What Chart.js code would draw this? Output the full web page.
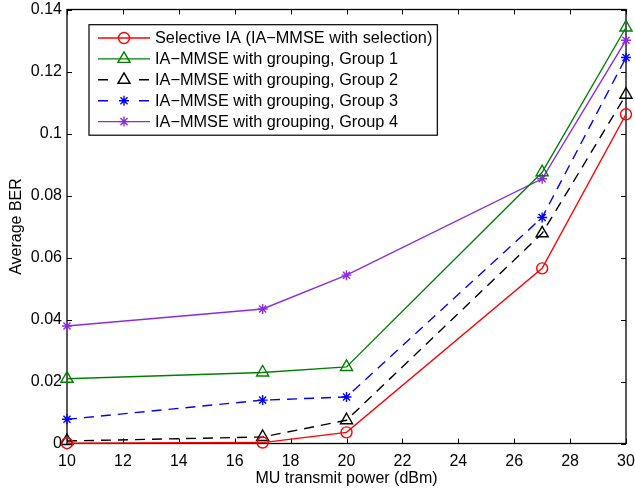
<!DOCTYPE html>
<html>
<head>
<meta charset="utf-8">
<script src="https://cdn.jsdelivr.net/npm/chart.js@4/dist/chart.umd.min.js"></script>
<style>
  html, body { margin: 0; padding: 0; background: #fff; }
  canvas { display: block; }
</style>
</head>
<body>
<canvas id="ber" width="635" height="491"></canvas>
<script>
// transmit power of the mobile users (dBm)
const powerDbm = [10, 17, 20, 27, 30]

// average BER per scheme
const selectiveIA = [0.0001, 0.0003, 0.0036, 0.0565, 0.1062]
const group1 = [0.0209, 0.0229, 0.0247, 0.0875, 0.1342]
const group2 = [0.0008, 0.0021, 0.0075, 0.0678, 0.1125]
const group3 = [0.0078, 0.0140, 0.0150, 0.0729, 0.1245]
const group4 = [0.0379, 0.0434, 0.0543, 0.0854, 0.1301]

const seriesLabels = [
    'Selective IA (IA\u2212MMSE with selection)',
    'IA\u2212MMSE with grouping, Group 1',
    'IA\u2212MMSE with grouping, Group 2',
    'IA\u2212MMSE with grouping, Group 3',
    'IA\u2212MMSE with grouping, Group 4'
]

const FONT = "'Liberation Sans', Arial, Helvetica, sans-serif"
Chart.defaults.font.family = FONT
Chart.defaults.font.size = 16
Chart.defaults.color = '#000'

const toXY = ys => ys.map((y, i) => ({ x: powerDbm[i], y }))

function series(label, values, color, style, radius, dashed) {
    return {
        label,
        data: toXY(values),
        borderColor: color,
        borderWidth: 1.4,
        borderDash: dashed ? [10, 7] : [],
        pointStyle: style,
        pointRadius: radius,
        pointBorderColor: color,
        pointBackgroundColor: 'rgba(0,0,0,0)',
        pointBorderWidth: 1.4,
        tension: 0,
        clip: false
    }
}

// matlab style box with inward ticks on all four sides
const boxTicks = {
    id: 'boxTicks',
    beforeDatasetsDraw(chart) {
        const { ctx, chartArea: a, scales: { x, y } } = chart
        const len = 5
        ctx.save()
        ctx.strokeStyle = '#000'
        ctx.lineWidth = 1
        ctx.beginPath()
        x.ticks.forEach(t => {
            const px = Math.round(x.getPixelForValue(t.value)) + 0.5
            ctx.moveTo(px, a.bottom); ctx.lineTo(px, a.bottom - len)
            ctx.moveTo(px, a.top); ctx.lineTo(px, a.top + len)
        })
        y.ticks.forEach(t => {
            const py = Math.round(y.getPixelForValue(t.value)) + 0.5
            ctx.moveTo(a.left, py); ctx.lineTo(a.left + len, py)
            ctx.moveTo(a.right, py); ctx.lineTo(a.right - len, py)
        })
        ctx.stroke()
        ctx.lineWidth = 1.3
        ctx.strokeRect(a.left, a.top, a.right - a.left, a.bottom - a.top)
        ctx.restore()
    }
}

// legend box in the upper left corner, line sample with the marker on it
const boxLegend = {
    id: 'boxLegend',
    afterDraw(chart) {
        const { ctx, chartArea: a } = chart
        const sets = chart.data.datasets
        const left = a.left + 22, top = a.top + 15.2
        const rowH = 20.9, sampleW = 52, textX = left + 66
        ctx.save()
        ctx.font = '16.3px ' + FONT
        const textW = Math.max(...sets.map(d => ctx.measureText(d.label).width))
        const w = textX - left + textW + 5
        const h = rowH * sets.length + 6
        ctx.fillStyle = '#fff'
        ctx.fillRect(left, top, w, h)
        ctx.strokeStyle = '#000'
        ctx.lineWidth = 1.2
        ctx.strokeRect(left, top, w, h)

        sets.forEach((d, i) => {
            const cy = top + 13.3 + i * rowH
            const x0 = left + 9
            ctx.strokeStyle = d.borderColor
            ctx.lineWidth = d.borderWidth
            ctx.setLineDash(d.borderDash.length ? [10, 31] : [])
            ctx.beginPath()
            ctx.moveTo(x0, cy)
            ctx.lineTo(x0 + sampleW, cy)
            ctx.stroke()
            ctx.setLineDash([])
            ctx.fillStyle = 'rgba(0,0,0,0)'
            Chart.helpers.drawPoint(ctx, {
                pointStyle: d.pointStyle,
                radius: d.pointRadius,
                rotation: 0,
                borderWidth: d.pointBorderWidth
            }, x0 + sampleW / 2, cy)
            ctx.fillStyle = '#000'
            ctx.textBaseline = 'middle'
            ctx.textAlign = 'left'
            ctx.fillText(d.label, textX, cy + 1)
        })
        ctx.restore()
    }
}

new Chart(document.getElementById('ber'), {
    type: 'line',
    data: {
        datasets: [
            series(seriesLabels[0], selectiveIA, '#ff0000', 'circle', 5.5, false),
            series(seriesLabels[1], group1, '#008000', 'triangle', 7, false),
            series(seriesLabels[2], group2, '#000000', 'triangle', 7, true),
            series(seriesLabels[3], group3, '#0000ff', 'star', 5, true),
            series(seriesLabels[4], group4, '#8a2be2', 'star', 5, false)
        ]
    },
    options: {
        responsive: false,
        animation: false,
        devicePixelRatio: 1,
        layout: { padding: { top: 9.5, right: 9, left: 0, bottom: 0 } },
        plugins: {
            legend: { display: false },
            tooltip: { enabled: false }
        },
        scales: {
            x: {
                type: 'linear',
                min: 10,
                max: 30,
                grid: { display: false, drawTicks: false },
                border: { display: false },
                ticks: { stepSize: 2, padding: 8, maxRotation: 0 },
                title: {
                    display: true,
                    text: 'MU transmit power (dBm)',
                    padding: { top: 0, bottom: 3 }
                },
                afterFit(scale) {
                    scale.height = 47.5
                    scale.paddingLeft = 0
                    scale.paddingRight = 0
                }
            },
            y: {
                min: 0,
                max: 0.14,
                grid: { display: false, drawTicks: false },
                border: { display: false },
                ticks: {
                    stepSize: 0.02,
                    padding: 5,
                    callback: v => String(Number(v.toFixed(2)))
                },
                title: {
                    display: true,
                    text: 'Average BER',
                    padding: { top: 7, bottom: 0 }
                },
                afterFit(scale) {
                    scale.width = 67
                    scale.paddingTop = 0
                    scale.paddingBottom = 0
                }
            }
        }
    },
    plugins: [boxTicks, boxLegend]
})
</script>
</body>
</html>
